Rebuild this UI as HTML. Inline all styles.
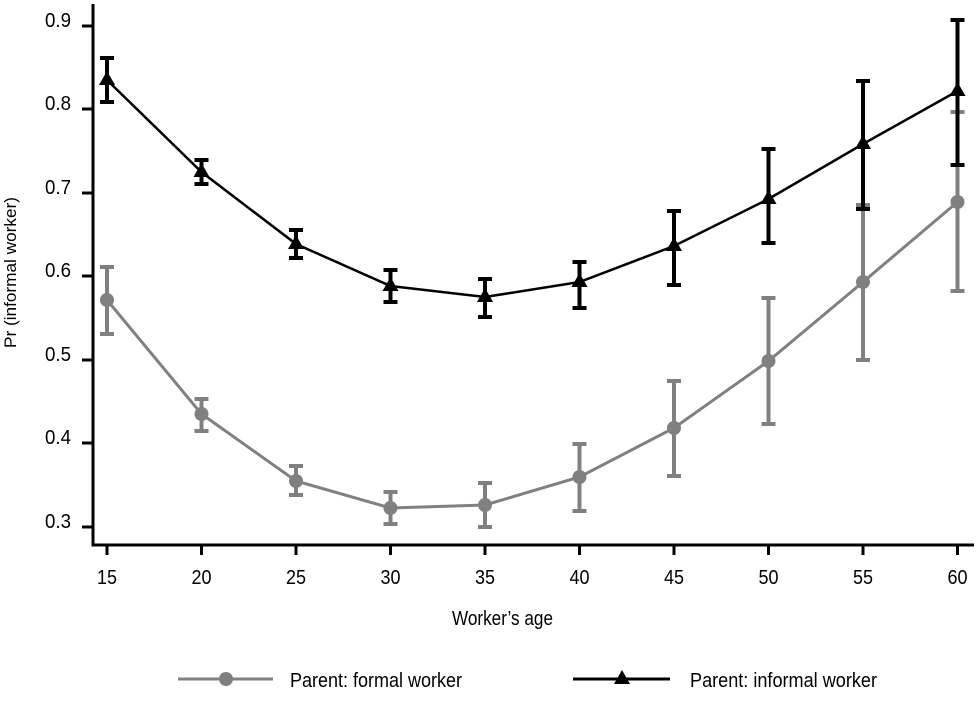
<!DOCTYPE html>
<html><head><meta charset="utf-8"><style>
body{margin:0;background:#fff}
svg text{font-family:"Liberation Sans Narrow","Liberation Sans",sans-serif;font-size:20px;fill:#000}
</style></head><body>
<svg width="979" height="696" viewBox="0 0 979 696" xmlns="http://www.w3.org/2000/svg">
<g stroke="#000" stroke-width="3" fill="none">
<path d="M93 4V545H974"/>
<path d="M82 26H93M82 109H93M82 193H93M82 276H93M82 360H93M82 443H93M82 527H93"/>
<path d="M107 545v10M201.5 545v10M296 545v10M390.5 545v10M485 545v10M579.5 545v10M674 545v10M768.5 545v10M863 545v10M957.5 545v10"/>
</g>
<g>
<text x="45" y="27" textLength="26" lengthAdjust="spacingAndGlyphs">0.9</text>
<text x="45" y="110" textLength="26" lengthAdjust="spacingAndGlyphs">0.8</text>
<text x="45" y="194" textLength="26" lengthAdjust="spacingAndGlyphs">0.7</text>
<text x="45" y="277" textLength="26" lengthAdjust="spacingAndGlyphs">0.6</text>
<text x="45" y="361" textLength="26" lengthAdjust="spacingAndGlyphs">0.5</text>
<text x="45" y="444" textLength="26" lengthAdjust="spacingAndGlyphs">0.4</text>
<text x="45" y="528" textLength="26" lengthAdjust="spacingAndGlyphs">0.3</text>
</g>
<g>
<text x="97" y="584" textLength="20" lengthAdjust="spacingAndGlyphs">15</text>
<text x="191.5" y="584" textLength="20" lengthAdjust="spacingAndGlyphs">20</text>
<text x="286" y="584" textLength="20" lengthAdjust="spacingAndGlyphs">25</text>
<text x="380.5" y="584" textLength="20" lengthAdjust="spacingAndGlyphs">30</text>
<text x="475" y="584" textLength="20" lengthAdjust="spacingAndGlyphs">35</text>
<text x="569.5" y="584" textLength="20" lengthAdjust="spacingAndGlyphs">40</text>
<text x="664" y="584" textLength="20" lengthAdjust="spacingAndGlyphs">45</text>
<text x="758.5" y="584" textLength="20" lengthAdjust="spacingAndGlyphs">50</text>
<text x="853" y="584" textLength="20" lengthAdjust="spacingAndGlyphs">55</text>
<text x="947.5" y="584" textLength="20" lengthAdjust="spacingAndGlyphs">60</text>
<text x="452" y="625" textLength="101" lengthAdjust="spacingAndGlyphs">Worker’s age</text>
<text transform="translate(16 348) rotate(-90)" x="0" y="0" textLength="151" lengthAdjust="spacingAndGlyphs" style="font-size:17px">Pr (informal worker)</text>
</g>
<!-- gray series -->
<g stroke="#808080" stroke-width="4" fill="none">
<path d="M107 267V334M201.5 399V431M296 466V495M390.5 492V524M485 483V527M579.5 444V511M674 381V476M768.5 298V424M863 205V360M957.5 112V291"/>
<path d="M100 267h14M100 334h14M194.5 399h14M194.5 431h14M289 466h14M289 495h14M383.5 492h14M383.5 524h14M478 483h14M478 527h14M572.5 444h14M572.5 511h14M667 381h14M667 476h14M761.5 298h14M761.5 424h14M856 205h14M856 360h14M950.5 112h14M950.5 291h14"/>
<path stroke-width="3" d="M107 300L201.5 414L296 481L390.5 508L485 505L579.5 477L674 428L768.5 361L863 282L957.5 202"/>
</g>
<g fill="#808080">
<circle cx="107" cy="300" r="7"/><circle cx="201.5" cy="414" r="7"/><circle cx="296" cy="481" r="7"/><circle cx="390.5" cy="508" r="7"/><circle cx="485" cy="505" r="7"/><circle cx="579.5" cy="477" r="7"/><circle cx="674" cy="428" r="7"/><circle cx="768.5" cy="361" r="7"/><circle cx="863" cy="282" r="7"/><circle cx="957.5" cy="202" r="7"/>
</g>
<!-- black series -->
<g stroke="#000" stroke-width="4" fill="none">
<path d="M107 58V102M201.5 160V184M296 230V258M390.5 270V302M485 279V317M579.5 262V308M674 211V285M768.5 149V243M863 81V209M957.5 20V165"/>
<path d="M100 58h14M100 102h14M194.5 160h14M194.5 184h14M289 230h14M289 258h14M383.5 270h14M383.5 302h14M478 279h14M478 317h14M572.5 262h14M572.5 308h14M667 211h14M667 285h14M761.5 149h14M761.5 243h14M856 81h14M856 209h14M950.5 20h14M950.5 165h14"/>
<path stroke-width="2.5" d="M107 80L201.5 172L296 244L390.5 286L485 297L579.5 282L674 246L768.5 199L863 144L957.5 91"/>
</g>
<g fill="#000">
<path d="M107 71l8 14h-16z"/><path d="M201.5 163l8 14h-16z"/><path d="M296 235l8 14h-16z"/><path d="M390.5 277l8 14h-16z"/><path d="M485 288l8 14h-16z"/><path d="M579.5 273l8 14h-16z"/><path d="M674 237l8 14h-16z"/><path d="M768.5 190l8 14h-16z"/><path d="M863 135l8 14h-16z"/><path d="M957.5 82l8 14h-16z"/>
</g>
<!-- legend -->
<path d="M178 679H273" stroke="#808080" stroke-width="3"/>
<circle cx="226" cy="679" r="7" fill="#808080"/>
<text x="290" y="687" textLength="172" lengthAdjust="spacingAndGlyphs">Parent: formal worker</text>
<path d="M573 679H670" stroke="#000" stroke-width="3"/>
<path d="M622 670l8 14h-16z" fill="#000"/>
<text x="690" y="687" textLength="187" lengthAdjust="spacingAndGlyphs">Parent: informal worker</text>
</svg>
</body></html>
